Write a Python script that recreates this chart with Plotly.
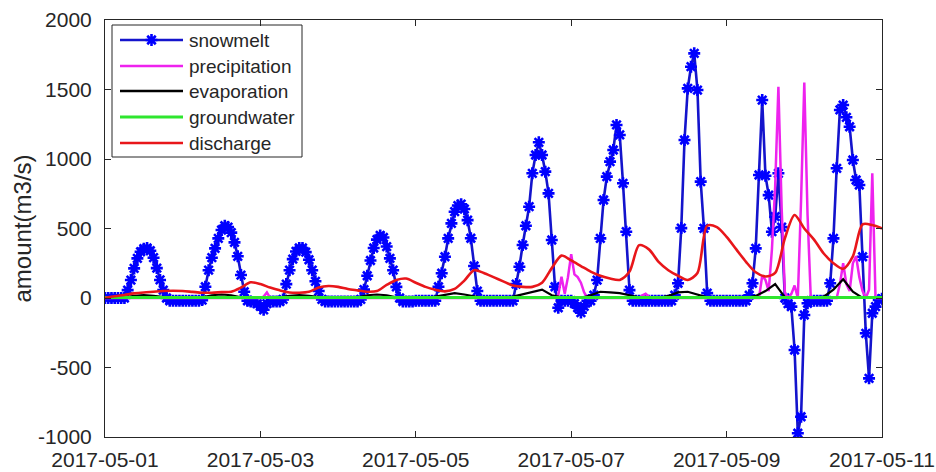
import pandas as pd
import plotly.graph_objects as go

# ---------------- data ----------------
start = "2017-05-01"
hourly_t = pd.date_range(start, periods=241, freq="h")
three_h_t = pd.date_range(start, periods=81, freq="3h")
daily_t = pd.date_range(start, periods=11, freq="D")

snowmelt = [
    0, 0, 0, 0, 0, 0, 0, 57, 129, 213, 285, 333, 355, 360, 340, 290, 215, 130, 57, 0, -20, -20, -20, -20,
    -20, -20, -20, -20, -20, -20, -15, 81, 200, 290, 357, 429, 489, 520, 510, 470, 400, 300, 165, 45, -20, -25, -30, -40,
    -60, -85, -40, -25, -25, -25, -25, -10, 100, 200, 280, 335, 360, 360, 330, 275, 200, 120, 50, -10, -25, -25, -25, -25,
    -25, -25, -25, -25, -25, -25, -25, -10, 60, 160, 270, 360, 420, 450, 435, 370, 285, 200, 80, 0, -25, -25, -25, -25,
    -20, -20, -20, -20, -20, -20, -20, 81, 178, 297, 429, 537, 621, 665, 675, 640, 560, 430, 230, 50, -20, -20, -20, -20,
    -20, -20, -20, -20, -20, -20, -20, 100, 225, 381, 520, 657, 897, 1029, 1120, 1029, 909, 753, 417, 81, -70, -20, -20, -20,
    -20, -40, -70, -105, -60, -20, -20, 20, 129, 429, 705, 873, 981, 1065, 1245, 1173, 825, 477, 57, -20, -20, -20, -20, -20,
    -20, -20, -20, -20, -20, -20, -20, -20, 20, 106, 503, 1137, 1508, 1664, 1760, 1496, 837, 501, 35, -20, -20, -20, -20, -20,
    -20, -20, -20, -20, -20, -20, -20, 20, 106, 357, 885, 1424, 880, 740, 477, 585, 897, 510, 0, -40, -62, -374, -973, -854,
    -122, -38, -20, -20, -20, -20, -20, -20, 106, 429, 933, 1353, 1388, 1300, 1232, 993, 849, 813, 297, -254, -578, -110, -62, -14,
    -5,
]

precipitation = [
    0, 0, 0, 0, 0, 0, 0, 0, 0, 0, 0, 0, 0, 0, 0, 0, 0, 0, 0, 0, 0, 0, 0, 0,
    0, 0, 0, 0, 0, 0, 0, 0, 0, 0, 0, 0, 0, 0, 0, 0, 0, 0, 0, 0, 0, 0, 0, 0,
    0, 10, 40, 0, 0, 0, 0, 0, 0, 0, 0, 0, 0, 0, 0, 0, 0, 0, 0, 0, 0, 0, 0, 0,
    0, 0, 0, 0, 0, 0, 0, 0, 0, 0, 0, 0, 0, 0, 0, 0, 0, 0, 0, 0, 0, 0, 0, 0,
    0, 0, 0, 0, 0, 0, 0, 0, 0, 0, 0, 0, 0, 0, 0, 0, 0, 0, 0, 0, 0, 0, 0, 0,
    0, 0, 0, 0, 0, 0, 0, 0, 0, 0, 0, 0, 0, 0, 0, 0, 0, 0, 0, 0, 20, 153, 30, 150,
    315, 170, 150, 110, 40, 0, 0, 0, 0, 0, 0, 0, 0, 0, 0, 0, 0, 0, 0, 0, 0, 0, 20, 30,
    10, 0, 0, 0, 0, 0, 0, 0, 0, 0, 0, 0, 0, 0, 0, 0, 0, 0, 0, 0, 0, 0, 0, 0,
    0, 0, 0, 0, 0, 0, 0, 0, 0, 0, 0, 160, 130, 50, 350, 800, 1520, 650, 40, 0, 30, 90, 0, 700,
    1550, 600, 0, 0, 0, 0, 0, 0, 0, 0, 0, 100, 250, 100, 50, 250, 300, 150, 50, 0, 60, 897, 0, 0,
    0,
]

evaporation = [
    0, 0, 5, 15, 20, 15, 5, 0,
    0, 0, 5, 20, 25, 20, 5, 0,
    0, 0, 5, 15, 20, 15, 5, 0,
    0, 0, 5, 20, 25, 20, 5, 0,
    0, 0, 10, 25, 35, 25, 10, 0,
    0, 0, 10, 25, 45, 60, 20, 5,
    0, 0, 20, 45, 40, 35, 20, 5,
    0, 0, 15, 40, 45, 25, 5, 0,
    0, 0, 0, 15, 50, 100, 5, 0,
    0, 0, 10, 60, 135, 45, 0, 0,
    0,
]

groundwater = [3, 3, 3, 3, 3, 3, 3, 3, 3, 3, 3]

discharge = [
    0, 12, 22, 33, 40, 45, 50, 52,
    50, 44, 38, 38, 42, 45, 75, 113,
    100, 75, 55, 40, 38, 45, 75, 86,
    80, 65, 55, 45, 50, 94, 130, 140,
    110, 80, 60, 48, 65, 125, 200, 180,
    150, 120, 90, 80, 80, 110, 215, 305,
    270, 230, 190, 160, 140, 130, 190, 380,
    350, 260, 200, 160, 130, 180, 520, 510,
    440, 350, 260, 185, 155, 180, 430, 597,
    500, 420, 320, 250, 210, 300, 530, 525,
    500,
]

series_names = ["snowmelt", "precipitation", "evaporation", "groundwater", "discharge"]
series_colors = ["#1414cc", "#ee22ee", "#000000", "#2ee62e", "#e8161a"]

tick_dates = ["2017-05-01", "2017-05-03", "2017-05-05", "2017-05-07", "2017-05-09", "2017-05-11"]
y_ticks = [-1000, -500, 0, 500, 1000, 1500, 2000]
y_ticktext = ["-1000", "-500", "0", "500", "1000", "1500", "2000"]

assert len(snowmelt) == 241 and len(precipitation) == 241
assert len(evaporation) == 81 and len(discharge) == 81

# ---------------- figure ----------------
FONT = "Liberation Sans, Arial, Helvetica, sans-serif"
AX = "#262626"
MARKER = dict(symbol="asterisk-open", size=10, color="#0000ff",
              line=dict(width=2.6, color="#0000ff"))

fig = go.Figure()
fig.add_trace(go.Scatter(
    x=hourly_t, y=snowmelt, mode="lines+markers", name=series_names[0],
    line=dict(color=series_colors[0], width=2.6), marker=MARKER, showlegend=False))
fig.add_trace(go.Scatter(
    x=hourly_t, y=precipitation, mode="lines", name=series_names[1],
    line=dict(color=series_colors[1], width=2.5), showlegend=False))
fig.add_trace(go.Scatter(
    x=three_h_t, y=evaporation, mode="lines", name=series_names[2],
    line=dict(color=series_colors[2], width=2.2), showlegend=False))
fig.add_trace(go.Scatter(
    x=daily_t, y=groundwater, mode="lines", name=series_names[3],
    line=dict(color=series_colors[3], width=3), showlegend=False))
fig.add_trace(go.Scatter(
    x=three_h_t, y=discharge, mode="lines", name=series_names[4],
    line=dict(color=series_colors[4], width=2.6, shape="spline", smoothing=0.8),
    showlegend=False))

W, H = 936, 472
L, R, T, B = 105, 54, 20, 35
pw, ph = W - L - R, H - T - B

def px(xp):
    return (xp - L) / pw

def py(yp):
    return (H - B - yp) / ph

rows = [40, 66, 91, 117, 143]

# legend marker sample on an overlay [0,1] axis pair (drawn above the legend box)
fig.add_trace(go.Scatter(
    x=[px(151.5)], y=[py(rows[0])], mode="markers", xaxis="x2", yaxis="y2",
    marker=MARKER, showlegend=False, hoverinfo="skip"))

shapes = [dict(type="rect", xref="paper", yref="paper",
               x0=px(112), x1=px(302), y0=py(157), y1=py(25),
               line=dict(color=AX, width=1), fillcolor="white", layer="below")]
annotations = []
for name, col, ry in zip(series_names, series_colors, rows):
    shapes.append(dict(type="line", xref="paper", yref="paper",
                       x0=px(120), x1=px(183), y0=py(ry), y1=py(ry),
                       line=dict(color=col, width=3 if name == "groundwater" else 2.6),
                       layer="below"))
    annotations.append(dict(xref="paper", yref="paper", x=px(187), y=py(ry),
                            text=name, showarrow=False, xanchor="left", yanchor="middle",
                            font=dict(family=FONT, size=19, color=AX)))

annotations.append(dict(xref="paper", yref="paper", x=px(22), y=0.5, text="amount(m3/s)",
                        textangle=-90, showarrow=False, xanchor="center", yanchor="middle",
                        font=dict(family=FONT, size=24, color=AX)))

fig.update_layout(
    width=W, height=H,
    margin=dict(l=L, r=R, t=T, b=B, autoexpand=False),
    paper_bgcolor="white", plot_bgcolor="white",
    font=dict(family=FONT, size=21, color=AX),
    showlegend=False,
    xaxis=dict(
        range=["2017-05-01", "2017-05-11"], tickvals=tick_dates, ticktext=tick_dates,
        showline=True, mirror="ticks", linecolor=AX, linewidth=1,
        ticks="inside", ticklen=6, tickcolor=AX, tickwidth=1,
        showgrid=False, zeroline=False, ticklabelstandoff=4, automargin=False,
        tickfont=dict(family=FONT, size=21, color=AX)),
    yaxis=dict(
        range=[-1000, 2000], tickvals=y_ticks, ticktext=y_ticktext,
        showline=True, mirror="ticks", linecolor=AX, linewidth=1,
        ticks="inside", ticklen=6, tickcolor=AX, tickwidth=1,
        showgrid=False, zeroline=False, ticklabelstandoff=8, automargin=False,
        tickfont=dict(family=FONT, size=21, color=AX)),
    xaxis2=dict(overlaying="x", range=[0, 1], visible=False),
    yaxis2=dict(overlaying="y", range=[0, 1], visible=False),
    shapes=shapes, annotations=annotations,
    hovermode=False,
)

fig.write_html("out.html")
